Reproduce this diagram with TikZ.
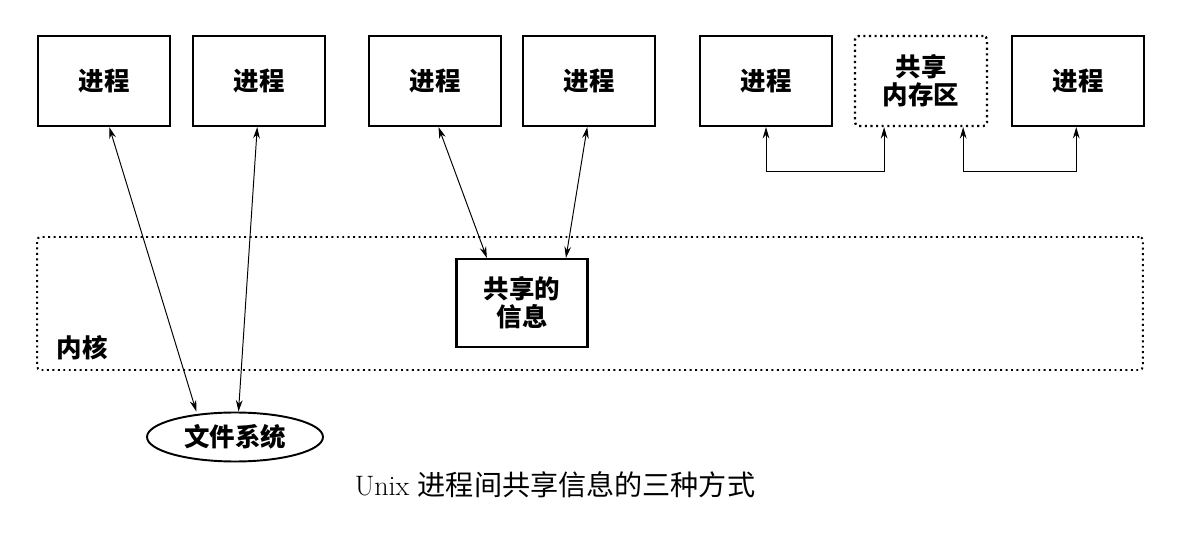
\documentclass[tikz,border=0pt]{standalone}
\usepackage{fontspec}
\newfontfamily\cjk{Noto Sans CJK SC}
\usetikzlibrary{arrows.meta, positioning, shapes.geometric}

\begin{document}
\begin{tikzpicture}[x=0.02cm, y=-0.02cm,
    proc/.style={rectangle, draw, line width=1.2pt, minimum width=2.64cm,
                 minimum height=1.8cm, inner sep=1pt, align=center,
                 font={\cjk\bfseries\fontsize{14.5}{16}\selectfont}},
    shmbox/.style={proc, dotted, line width=1.3pt, rounded corners=2pt},
    kern/.style={rectangle, draw, dotted, line width=1.1pt, rounded corners=2pt,
                 minimum width=22.12cm, minimum height=2.66cm},
    link/.style={{Stealth[length=6.5pt,width=3.8pt]}-{Stealth[length=6.5pt,width=3.8pt]},
                 line width=0.55pt}
  ]
    \useasboundingbox (0,0) rectangle (1183,533);

    % Kernel area (drawn first, boxes sit on top)
    \node[kern] (kernel) at (590,303.5) {};
    \node[font={\cjk\bfseries\fontsize{14.5}{16}\selectfont}] (klabel) at (82,348) {内核};

    % Top row of processes
    \node[proc] (p1) at (104,81)  {进程};
    \node[proc] (p2) at (259,81)  {进程};
    \node[proc] (p3) at (435,81)  {进程};
    \node[proc] (p4) at (589,81)  {进程};
    \node[proc] (p5) at (766,81)  {进程};
    % Shared memory region
    \node[shmbox] (shm) at (921,81) {共享\\内存区};
    \node[proc] (p7) at (1078,81) {进程};

    % Shared info inside kernel
    \node[proc, minimum width=2.62cm, minimum height=1.76cm] (info) at (522,303)
      {共享的\\信息};

    % File system
    \node[ellipse, draw, line width=1.1pt, minimum width=3.52cm, minimum height=0.98cm,
          inner sep=0pt, font={\cjk\bfseries\fontsize{14.5}{16}\selectfont}] (fs)
      at (235,437) {文件系统};

    % Caption
    \node[font=\fontsize{16}{18}\selectfont] (caption) at (555,485)
      {Unix {\cjk 进程间共享信息的三种方式}};

    % Via file system
    \draw[link] ([xshift=3]p1.south) -- ([xshift=-22]fs.north);
    \draw[link] ([xshift=-1]p2.south) -- ([xshift=2]fs.north);

    % Via kernel
    \draw[link] ([xshift=2]p3.south) -- ([xshift=-20]info.north);
    \draw[link] ([xshift=-1]p4.south) -- ([xshift=25]info.north);

    % Via shared memory
    \draw[link] (p5.south) -- ++(0,44) -| ([xshift=-21]shm.south);
    \draw[link] ([xshift=24]shm.south) -- ++(0,44) -| ([xshift=-1]p7.south);
\end{tikzpicture}
\end{document}
